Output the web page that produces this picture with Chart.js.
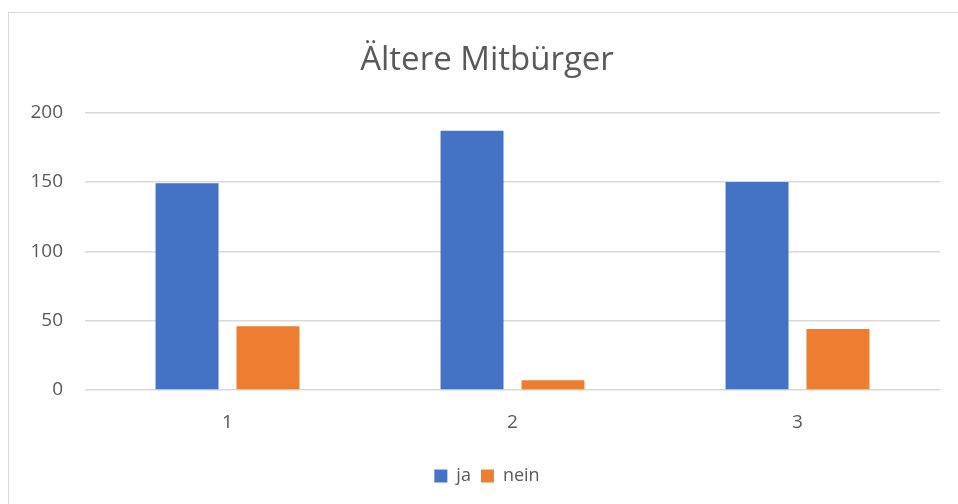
<!DOCTYPE html>
<html>
<head>
<meta charset="utf-8">
<script src="https://cdn.jsdelivr.net/npm/chart.js@4"></script>
<style>
    body { margin: 0; background: #fff; }
    #wrap { position: relative; width: 958px; height: 504px; }
    #frame { position: absolute; left: 8px; top: 12px; width: 960px; height: 500px; border: 1px solid #d9d9d9; box-sizing: border-box; }
    canvas { position: absolute; left: 0; top: 0; }
</style>
</head>
<body>
<div id="wrap">
    <div id="frame"></div>
    <canvas id="barChart" width="958" height="504"></canvas>
</div>
<script>
const categories = ['1', '2', '3'];
const jaValues = [149, 187, 150];
const neinValues = [46, 7, 44];
const yTicks = [0, 50, 100, 150, 200];

const textColor = '#595959';

// y labels stick out left of the narrow axis box, so don't clip them
const noLabelClip = {
    id: 'noLabelClip',
    afterLayout: function (chart) {
        chart.scales.y._computeLabelArea = function () { return undefined; };
    }
};

document.addEventListener('DOMContentLoaded', function () {
    new Chart(document.getElementById("barChart"), {
        type: 'bar',
        data: {
            labels: categories,
            datasets: [{
                label: 'ja',
                data: jaValues,
                backgroundColor: '#4472c4',
                categoryPercentage: 0.568,
                barPercentage: 0.778
            }, {
                label: 'nein',
                data: neinValues,
                backgroundColor: '#ed7d31',
                categoryPercentage: 0.568,
                barPercentage: 0.778
            }]
        },
        options: {
            responsive: false,
            animation: false,
            layout: { padding: { left: 34, right: 18, top: 41, bottom: 9 } },
            plugins: {
                title: {
                    display: true,
                    text: 'Ältere Mitbürger',
                    color: textColor,
                    font: { family: 'Open Sans', size: 33, weight: 'normal' },
                    padding: { top: 0, bottom: 32 }
                },
                legend: {
                    display: true,
                    position: 'bottom',
                    labels: {
                        color: textColor,
                        font: { family: 'Open Sans', size: 18 },
                        boxWidth: 13,
                        boxHeight: 13,
                        padding: 10
                    }
                },
                tooltip: { enabled: false }
            },
            scales: {
                x: {
                    grid: { display: false },
                    border: { display: false },
                    ticks: { color: textColor, font: { family: 'Open Sans', size: 19 }, padding: 13 },
                    afterFit: function (s) { s.height = 67; }
                },
                y: {
                    min: 0,
                    max: 200,
                    afterBuildTicks: function (s) { s.ticks = yTicks.map(v => ({ value: v })); },
                    grid: { color: '#d9d9d9', lineWidth: 1.5, drawTicks: false },
                    border: { display: false },
                    ticks: { color: textColor, font: { family: 'Open Sans', size: 19 }, padding: 22 },
                    afterFit: function (s) { s.width = 51; }
                }
            }
        },
        plugins: [noLabelClip]
    });
});
</script>
</body>
</html>
